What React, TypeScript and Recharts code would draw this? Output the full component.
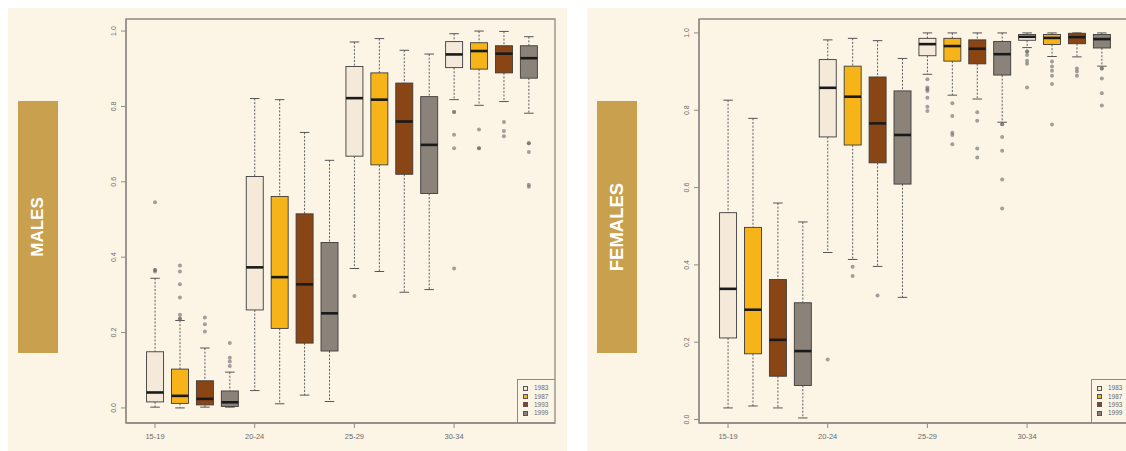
import React from "react";
import { ComposedChart, Bar, Scatter, XAxis, YAxis, ReferenceArea } from "recharts";

// ---------- data ----------
const years = ["1983", "1987", "1993", "1999"];
const ageGroups = ["15-19", "20-24", "25-29", "30-34"];
const groupTickPositions = [1, 5, 9, 13];
const yTicks = [0, 0.2, 0.4, 0.6, 0.8, 1.0];

// Box n = (age group index) * 4 + (year index) + 1
const malesLower = [0.002, 0.0, 0.002, 0.002, 0.046, 0.011, 0.034, 0.017, 0.37, 0.362, 0.307, 0.314, 0.818, 0.803, 0.813, 0.782];
const malesQ1 = [0.016, 0.012, 0.008, 0.004, 0.26, 0.211, 0.172, 0.151, 0.668, 0.645, 0.62, 0.569, 0.903, 0.899, 0.889, 0.875];
const malesMedian = [0.041, 0.032, 0.024, 0.015, 0.373, 0.347, 0.328, 0.251, 0.822, 0.818, 0.76, 0.698, 0.938, 0.947, 0.94, 0.928];
const malesQ3 = [0.149, 0.103, 0.072, 0.045, 0.614, 0.561, 0.515, 0.439, 0.906, 0.889, 0.862, 0.826, 0.972, 0.969, 0.961, 0.961];
const malesUpper = [0.344, 0.232, 0.159, 0.095, 0.821, 0.818, 0.731, 0.657, 0.971, 0.98, 0.949, 0.939, 0.993, 1.0, 0.999, 0.985];
// [box number, value]
const malesOutliers: [number, number][] = [
  [1, 0.546], [1, 0.366], [1, 0.366], [1, 0.362],
  [2, 0.378], [2, 0.362], [2, 0.328], [2, 0.293], [2, 0.247], [2, 0.238], [2, 0.235],
  [3, 0.24], [3, 0.222], [3, 0.203],
  [4, 0.172], [4, 0.133], [4, 0.123], [4, 0.111],
  [9, 0.297],
  [13, 0.785], [13, 0.785], [13, 0.725], [13, 0.689], [13, 0.37],
  [14, 0.739], [14, 0.689], [14, 0.689],
  [15, 0.759], [15, 0.735], [15, 0.721],
  [16, 0.702], [16, 0.702], [16, 0.679], [16, 0.592], [16, 0.587],
];

const femalesLower = [0.03, 0.035, 0.03, 0.004, 0.432, 0.414, 0.396, 0.316, 0.893, 0.839, 0.829, 0.769, 0.962, 0.939, 0.938, 0.914];
const femalesQ1 = [0.211, 0.17, 0.112, 0.088, 0.731, 0.71, 0.664, 0.609, 0.941, 0.927, 0.92, 0.891, 0.981, 0.97, 0.972, 0.961];
const femalesMedian = [0.338, 0.284, 0.206, 0.177, 0.858, 0.835, 0.766, 0.736, 0.971, 0.966, 0.959, 0.945, 0.99, 0.987, 0.989, 0.984];
const femalesQ3 = [0.535, 0.497, 0.362, 0.302, 0.931, 0.914, 0.886, 0.85, 0.986, 0.986, 0.982, 0.978, 0.996, 0.996, 0.999, 0.996];
const femalesUpper = [0.826, 0.779, 0.56, 0.511, 0.982, 0.986, 0.98, 0.934, 1.0, 1.0, 1.0, 1.0, 1.0, 1.0, 1.0, 1.0];
const femalesOutliers: [number, number][] = [
  [5, 0.155],
  [6, 0.395], [6, 0.371],
  [7, 0.321],
  [9, 0.88], [9, 0.859], [9, 0.854], [9, 0.85], [9, 0.832], [9, 0.809], [9, 0.798],
  [10, 0.818], [10, 0.785], [10, 0.742], [10, 0.736], [10, 0.712],
  [11, 0.795], [11, 0.773], [11, 0.701], [11, 0.678],
  [12, 0.764], [12, 0.764], [12, 0.731], [12, 0.695], [12, 0.621], [12, 0.546],
  [13, 0.952], [13, 0.952], [13, 0.943], [13, 0.928], [13, 0.92], [13, 0.859],
  [14, 0.926], [14, 0.913], [14, 0.902], [14, 0.889], [14, 0.868], [14, 0.763],
  [15, 0.908], [15, 0.9], [15, 0.889],
  [16, 0.908], [16, 0.908], [16, 0.882], [16, 0.844], [16, 0.812],
];

// ---------- styles ----------
const yearFills = ["#f5e9da", "#f6b418", "#8a4515", "#8b837a"];
const FRAME = "#8e8a83";
const CARD = "#fcf5e6";
const LABEL_BG = "#c9a04e";
const FONT = "'Liberation Sans', Arial, Helvetica, sans-serif";
const X_DOMAIN: [number, number] = [-0.165, 17.05];

function buildBoxes(lo: number[], q1: number[], med: number[], q3: number[], hi: number[]) {
  return lo.map((_, i) => ({ pos: i + 1, year: i % 4, lo: lo[i], q1: q1[i], med: med[i], q3: q3[i], hi: hi[i] }));
}
function buildOutliers(list: [number, number][]) {
  return list.map(([box, v]) => ({ pos: box, v }));
}

const malesBoxes = buildBoxes(malesLower, malesQ1, malesMedian, malesQ3, malesUpper);
const femalesBoxes = buildBoxes(femalesLower, femalesQ1, femalesMedian, femalesQ3, femalesUpper);
const malesPoints = buildOutliers(malesOutliers);
const femalesPoints = buildOutliers(femalesOutliers);

// ---------- marks ----------
const BoxShape = (props: any) => {
  const { x, y, width, height, payload } = props;
  if (!payload || height == null) return null;
  const { lo, q1, med, q3, hi, year } = payload;
  const span = hi - lo;
  const py = (v: number) => y + ((hi - v) / span) * height;
  const cx = x + width / 2;
  const capHalf = width * 0.28;
  const yHi = py(hi), yQ3 = py(q3), yMed = py(med), yQ1 = py(q1), yLo = py(lo);
  return (
    <g>
      <line x1={cx} x2={cx} y1={yHi} y2={yQ3} stroke="#5e5e5e" strokeWidth={1} strokeDasharray="2 1.6" />
      <line x1={cx} x2={cx} y1={yQ1} y2={yLo} stroke="#5e5e5e" strokeWidth={1} strokeDasharray="2 1.6" />
      <line x1={cx - capHalf} x2={cx + capHalf} y1={yHi} y2={yHi} stroke="#555" strokeWidth={1} />
      <line x1={cx - capHalf} x2={cx + capHalf} y1={yLo} y2={yLo} stroke="#555" strokeWidth={1} />
      <rect x={x} y={yQ3} width={width} height={Math.max(0.5, yQ1 - yQ3)} fill={yearFills[year]} stroke="#3c3c3c" strokeWidth={0.9} />
      <line x1={x} x2={x + width} y1={yMed} y2={yMed} stroke="#1a1a1a" strokeWidth={2.6} />
    </g>
  );
};

const OutlierDot = (props: any) => {
  const { cx, cy } = props;
  if (cx == null || cy == null) return null;
  return <circle cx={cx} cy={cy} r={2} fill="#6a6a6a" fillOpacity={0.62} />;
};

const YTick = (props: any) => {
  const { x, y, payload } = props;
  return (
    <text
      transform={`translate(${x - 3.5},${y}) rotate(-90)`}
      textAnchor="middle"
      fontSize={7}
      fill="#6a6a6a"
      fontFamily={FONT}
    >
      {Number(payload.value).toFixed(1)}
    </text>
  );
};

const XTick = (props: any) => {
  const { x, y, payload } = props;
  const idx = groupTickPositions.indexOf(payload.value);
  return (
    <text x={x} y={y + 9} textAnchor="middle" fontSize={7.5} fill="#6a6a6a" fontFamily={FONT}>
      {idx >= 0 ? ageGroups[idx] : ""}
    </text>
  );
};

function YearLegend({ left, top }: { left: number; top: number }) {
  return (
    <div
      style={{
        position: "absolute",
        left,
        top,
        width: 38,
        height: 44,
        border: `1.3px solid ${FRAME}`,
        borderRight: "none",
        borderBottom: "none",
        boxSizing: "border-box",
        paddingTop: 4,
        paddingLeft: 5,
      }}
    >
      {years.map((yr, i) => (
        <div key={yr} style={{ display: "flex", alignItems: "center", height: 8.4 }}>
          <div style={{ width: 5, height: 5, background: yearFills[i], border: "1px solid #555", boxSizing: "border-box" }} />
          <span style={{ marginLeft: 6, fontSize: 6.5, color: "#6a6a6a", fontFamily: FONT, lineHeight: "6px" }}>{yr}</span>
        </div>
      ))}
    </div>
  );
}

function SideLabel({ text, left, fontSize }: { text: string; left: number; fontSize: number }) {
  return (
    <div
      style={{
        position: "absolute",
        left,
        top: 101,
        width: 40,
        height: 252,
        background: LABEL_BG,
        display: "flex",
        alignItems: "center",
        justifyContent: "center",
      }}
    >
      <span
        style={{
          transform: "rotate(-90deg)",
          color: "#ffffff",
          fontWeight: "bold",
          fontSize,
          fontFamily: FONT,
          whiteSpace: "nowrap",
        }}
      >
        {text}
      </span>
    </div>
  );
}

function BoxChart({
  boxes,
  points,
  yDomain,
  left,
  width,
  yAxisWidth,
}: {
  boxes: any[];
  points: any[];
  yDomain: [number, number];
  left: number;
  width: number;
  yAxisWidth: number;
}) {
  const frameLine = { stroke: FRAME, strokeWidth: 1.3 };
  return (
    <div style={{ position: "absolute", left, top: 8 }}>
      <ComposedChart width={width} height={443} data={boxes} margin={{ top: 11, right: 12, bottom: 0, left: 0 }}>
        <XAxis
          type="number"
          dataKey="pos"
          domain={X_DOMAIN}
          allowDataOverflow
          ticks={groupTickPositions}
          interval={0}
          tick={<XTick />}
          tickSize={5}
          height={28}
          axisLine={frameLine}
          tickLine={{ stroke: FRAME }}
        />
        <YAxis
          type="number"
          domain={yDomain}
          allowDataOverflow
          ticks={yTicks}
          interval={0}
          width={yAxisWidth}
          tick={<YTick />}
          tickSize={5}
          axisLine={frameLine}
          tickLine={{ stroke: FRAME }}
        />
        <ReferenceArea
          x1={X_DOMAIN[0]}
          x2={X_DOMAIN[1]}
          y1={yDomain[0]}
          y2={yDomain[1]}
          fill="none"
          fillOpacity={0}
          stroke={FRAME}
          strokeWidth={1.3}
          ifOverflow="visible"
        />
        <Bar
          dataKey={(d: any) => [d.lo, d.hi]}
          barSize={17}
          shape={<BoxShape />}
          isAnimationActive={false}
        />
        <Scatter
          data={points}
          dataKey="v"
          shape={<OutlierDot />}
          isAnimationActive={false}
        />
      </ComposedChart>
    </div>
  );
}

export default function App() {
  return (
    <div
      style={{
        position: "fixed",
        left: 0,
        top: 0,
        width: 1126,
        height: 451,
        overflow: "hidden",
        background: "#ffffff",
      }}
    >
      <div style={{ position: "absolute", left: 8, top: 8, width: 559, height: 443, background: CARD }} />
      <div style={{ position: "absolute", left: 587, top: 8, width: 539, height: 443, background: CARD }} />
      <SideLabel text="MALES" left={18} fontSize={17} />
      <SideLabel text="FEMALES" left={597} fontSize={18.5} />
      <BoxChart boxes={malesBoxes} points={malesPoints} yDomain={[-0.04, 1.032]} left={8} width={559} yAxisWidth={118} />
      <BoxChart boxes={femalesBoxes} points={femalesPoints} yDomain={[-0.009, 1.036]} left={587} width={553} yAxisWidth={112} />
      <YearLegend left={517} top={379} />
      <YearLegend left={1091} top={379} />
    </div>
  );
}
